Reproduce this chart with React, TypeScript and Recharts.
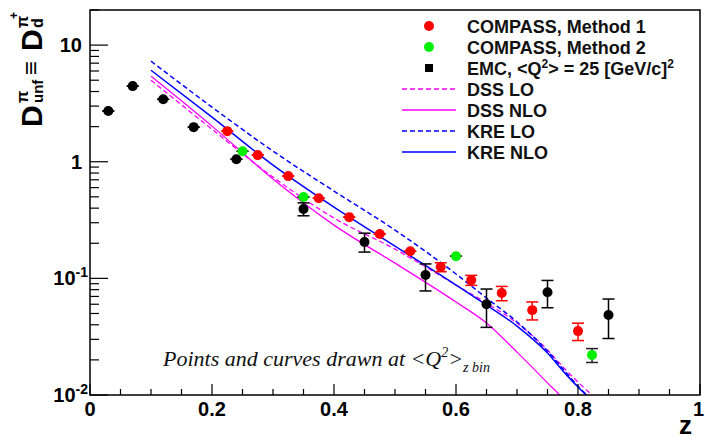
import React from 'react';
import { ComposedChart, Line, Scatter, XAxis, YAxis, ErrorBar } from 'recharts';

// EMC points, <Q^2> = 25 (GeV/c)^2
const emcZ = [0.03, 0.07, 0.12, 0.17, 0.24, 0.35, 0.45, 0.55, 0.65, 0.75, 0.85];
const emcD = [2.72, 4.45, 3.43, 1.98, 1.05, 0.393, 0.205, 0.107, 0.06, 0.076, 0.0485];
const emcErrLo = [0, 0, 0, 0, 0, 0.049, 0.037, 0.029, 0.022, 0.02, 0.018];
const emcErrHi = [0, 0, 0, 0, 0, 0.051, 0.039, 0.026, 0.021, 0.02, 0.018];

// COMPASS, method 1
const m1Z = [0.225, 0.275, 0.325, 0.375, 0.425, 0.475, 0.525, 0.575, 0.625, 0.675, 0.725, 0.8];
const m1D = [1.83, 1.14, 0.753, 0.487, 0.335, 0.24, 0.171, 0.125, 0.0966, 0.0748, 0.0534, 0.0353];
const m1Err = [0, 0, 0, 0, 0, 0, 0, 0.011, 0.0095, 0.0105, 0.0094, 0.006];

// COMPASS, method 2
const m2Z = [0.25, 0.35, 0.6, 0.823];
const m2D = [1.23, 0.498, 0.155, 0.022];
const m2Err = [0, 0, 0, 0.003];

// fragmentation function curves
const curveZ = [0.1, 0.2, 0.3, 0.4, 0.5, 0.6, 0.65, 0.7, 0.75, 0.78, 0.8, 0.83];
const dssLO = [5.0, 1.9, 0.738, 0.329, 0.178, 0.0877, 0.0614, 0.0414, 0.0243, 0.0164, 0.0129, 0.0093];
const dssNLO = [5.41, 2.02, 0.71, 0.286, 0.135, 0.0627, 0.0414, 0.0233, 0.0127, 0.0087, 0.0061, 0.0031];
const kreLO = [7.28, 2.94, 1.233, 0.56, 0.2595, 0.109, 0.0678, 0.0423, 0.0238, 0.0157, 0.0119, 0.0083];
const kreNLO = [6.09, 2.41, 0.935, 0.408, 0.189, 0.0877, 0.059, 0.039, 0.0229, 0.0151, 0.0117, 0.0083];

const xTicks = [0, 0.05, 0.1, 0.15, 0.2, 0.25, 0.3, 0.35, 0.4, 0.45, 0.5, 0.55, 0.6, 0.65, 0.7, 0.75, 0.8, 0.85, 0.9, 0.95, 1];
const xLabels: Record<string, string> = { '0': '0', '0.2': '0.2', '0.4': '0.4', '0.6': '0.6', '0.8': '0.8', '1': '1' };
const yTicks = [
  0.01, 0.02, 0.03, 0.04, 0.05, 0.06, 0.07, 0.08, 0.09,
  0.1, 0.2, 0.3, 0.4, 0.5, 0.6, 0.7, 0.8, 0.9,
  1, 2, 3, 4, 5, 6, 7, 8, 9,
  10, 20,
];
const yLabels: Record<string, [string, string]> = { '0.01': ['10', '-2'], '0.1': ['10', '-1'], '1': ['1', ''], '10': ['10', ''] };

const RED = '#ff0000';
const GREEN = '#00f000';
const MAGENTA = '#ff00ff';
const BLUE = '#0000ff';
const FONT = '"Liberation Sans", Arial, sans-serif';

const W = 705;
const H = 440;
const LEFT = 90;
const RIGHT = 700;
const TOP = 10;
const BOTTOM = 395;

const pts = (zs: number[], ds: number[], lo?: number[], hi?: number[]) =>
  zs.map((z, i) => ({ x: z, y: ds[i], err: lo ? [lo[i], (hi || lo)[i]] : [0, 0] }));
const curve = (ds: number[]) => curveZ.map((z, i) => ({ x: z, y: ds[i] }));

const XTick = (props: any) => {
  const { x, payload } = props;
  const label = xLabels[String(payload.value)];
  const last = payload.value === 1;
  return (
    <g>
      <line x1={x} x2={x} y1={BOTTOM} y2={BOTTOM - (label ? 11 : 6)} stroke="#000" strokeWidth={1.2} />
      {label && (
        <text x={last ? 704 : x} y={416} textAnchor={last ? 'end' : 'middle'} fontFamily={FONT} fontWeight="bold" fontSize={20} fill="#000">
          {label}
        </text>
      )}
    </g>
  );
};

const YTick = (props: any) => {
  const { y, payload } = props;
  const lab = yLabels[String(payload.value)];
  return (
    <g>
      <line x1={LEFT} x2={LEFT + (lab ? 18 : 9)} y1={y} y2={y} stroke="#000" strokeWidth={1.2} />
      {lab && (
        <text x={lab[1] ? 88 : 82} y={y + 7} textAnchor="end" fontFamily={FONT} fontWeight="bold" fontSize={20} fill="#000">
          {lab[0]}
          {lab[1] && (
            <tspan fontSize={14} dy={-8}>
              {lab[1]}
            </tspan>
          )}
        </text>
      )}
    </g>
  );
};

const dot = (color: string) => (p: any) => <circle cx={p.cx} cy={p.cy} r={5} fill={color} />;

const legendItems = [
  { name: 'COMPASS, Method 1', kind: 'dot', color: RED },
  { name: 'COMPASS, Method 2', kind: 'dot', color: GREEN },
  { name: 'EMC', kind: 'square', color: '#000' },
  { name: 'DSS LO', kind: 'dash', color: MAGENTA },
  { name: 'DSS NLO', kind: 'line', color: MAGENTA },
  { name: 'KRE LO', kind: 'dash', color: BLUE },
  { name: 'KRE NLO', kind: 'line', color: BLUE },
];

const Overlay = () => (
  <svg width={W} height={H} style={{ position: 'absolute', left: 0, top: 0, pointerEvents: 'none' }}>
    <rect x={LEFT} y={TOP} width={RIGHT - LEFT} height={BOTTOM - TOP} fill="none" stroke="#000" strokeWidth={1.5} />
    {legendItems.map((it, i) => {
      const cy = 26 + i * 21;
      return (
        <g key={it.name}>
          {it.kind === 'dot' && <circle cx={429} cy={cy} r={5} fill={it.color} />}
          {it.kind === 'square' && <rect x={425} y={cy - 4} width={8} height={8} fill={it.color} />}
          {(it.kind === 'dash' || it.kind === 'line') && (
            <line x1={402} x2={456} y1={cy} y2={cy} stroke={it.color} strokeWidth={1.5} strokeDasharray={it.kind === 'dash' ? '5 3' : undefined} />
          )}
          <text x={467} y={cy + 6.5} fontFamily={FONT} fontWeight="bold" fontSize={18} fill="#111">
            {it.kind === 'square' ? (
              <>
                {'EMC, <Q'}
                <tspan fontSize={12} dy={-7}>2</tspan>
                <tspan dy={7}>{'> = 25 [GeV/c]'}</tspan>
                <tspan fontSize={12} dy={-7}>2</tspan>
              </>
            ) : (
              it.name
            )}
          </text>
        </g>
      );
    })}

    {/* y title */}
    <g transform="translate(42,127) rotate(-90)" fontFamily={FONT} fontWeight="bold" fill="#000">
      <text x={0} y={0} fontSize={30}>D</text>
      <text x={24} y={-14} fontSize={16}>π</text>
      <text x={24} y={1} fontSize={15}>unf</text>
      <text x={52} y={-3} fontSize={24}>≡</text>
      <text x={76} y={0} fontSize={30}>D</text>
      <text x={99} y={-14} fontSize={16}>π</text>
      <text x={108} y={-24} fontSize={12}>+</text>
      <text x={99} y={1} fontSize={16}>d</text>
    </g>

    <text x={692} y={434} textAnchor="end" fontFamily={FONT} fontWeight="bold" fontSize={26} fill="#000">z</text>

    <text x={163} y={366} fontFamily='"Liberation Serif", "Times New Roman", serif' fontStyle="italic" fontSize={22} fill="#111">
      {'Points and curves drawn at <Q'}
      <tspan fontSize={14} dy={-9}>2</tspan>
      <tspan dy={9}>{'>'}</tspan>
      <tspan fontSize={14} dy={6}>{'z bin'}</tspan>
    </text>
  </svg>
);

export default function App() {
  return (
    <div style={{ position: 'absolute', left: 0, top: 0, width: W, height: H, background: '#fff' }}>
      <ComposedChart width={W} height={H} margin={{ top: TOP, right: W - RIGHT, bottom: 0, left: 0 }}>
        <XAxis
          dataKey="x"
          type="number"
          domain={[0, 1]}
          ticks={xTicks}
          interval={0}
          height={H - BOTTOM}
          axisLine={false}
          tickLine={false}
          tick={<XTick />}
          allowDataOverflow
        />
        <YAxis
          type="number"
          scale="log"
          domain={[0.01, 20]}
          ticks={yTicks}
          interval={0}
          width={LEFT}
          axisLine={false}
          tickLine={false}
          tick={<YTick />}
          allowDataOverflow
        />
        <Line data={curve(dssLO)} dataKey="y" type="monotone" stroke={MAGENTA} strokeWidth={1.3} strokeDasharray="5 3" dot={false} activeDot={false} isAnimationActive={false} />
        <Line data={curve(dssNLO)} dataKey="y" type="monotone" stroke={MAGENTA} strokeWidth={1.3} dot={false} activeDot={false} isAnimationActive={false} />
        <Line data={curve(kreLO)} dataKey="y" type="monotone" stroke={BLUE} strokeWidth={1.5} strokeDasharray="5 3" dot={false} activeDot={false} isAnimationActive={false} />
        <Line data={curve(kreNLO)} dataKey="y" type="monotone" stroke={BLUE} strokeWidth={1.5} dot={false} activeDot={false} isAnimationActive={false} />
        <Scatter data={pts(emcZ, emcD, emcErrLo, emcErrHi)} dataKey="y" shape={dot('#000')} isAnimationActive={false}>
          <ErrorBar dataKey="err" direction="y" width={6} stroke="#000" strokeWidth={1.5} />
        </Scatter>
        <Scatter data={pts(m1Z, m1D, m1Err)} dataKey="y" shape={dot(RED)} isAnimationActive={false}>
          <ErrorBar dataKey="err" direction="y" width={6} stroke={RED} strokeWidth={1.5} />
        </Scatter>
        <Scatter data={pts(m2Z, m2D, m2Err)} dataKey="y" shape={dot(GREEN)} isAnimationActive={false}>
          <ErrorBar dataKey="err" direction="y" width={6} stroke="#222" strokeWidth={1.5} />
        </Scatter>
      </ComposedChart>
      <Overlay />
    </div>
  );
}
